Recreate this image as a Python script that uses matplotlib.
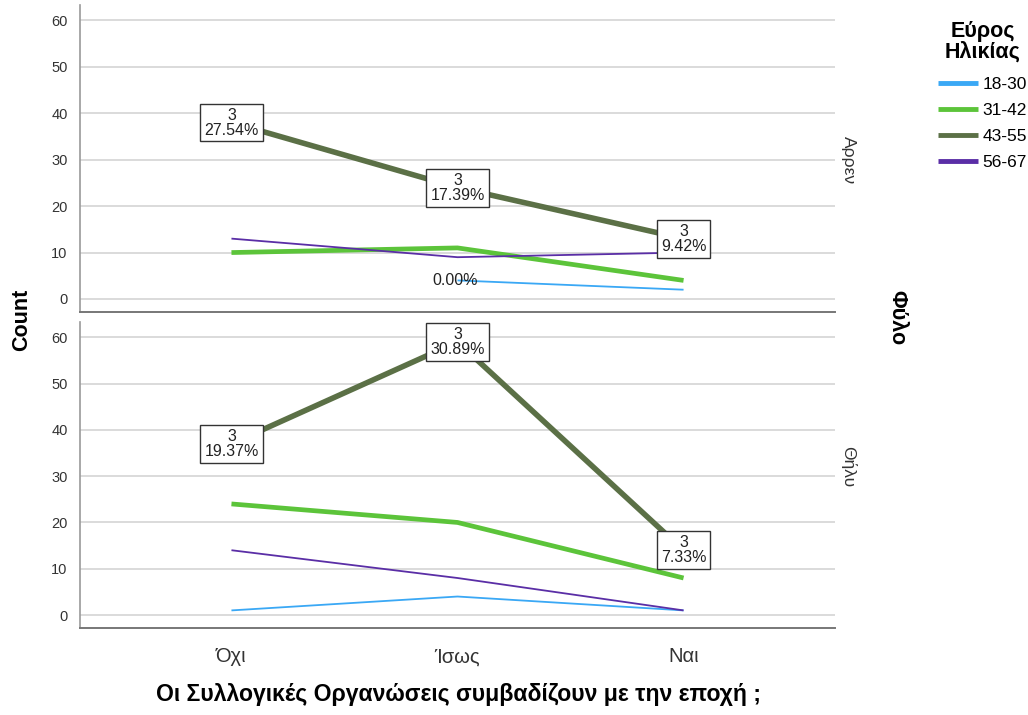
import matplotlib
matplotlib.use("Agg")
import matplotlib.pyplot as plt
import numpy as np

plt.rcParams['font.family'] = ['Liberation Sans', 'DejaVu Sans']

categories = ['Όχι', 'Ίσως', 'Ναι']
age_groups = ['18-30', '31-42', '43-55', '56-67']
panels = ['Αρρεν', 'Θήλυ']

# counts per panel, per age group (None = no point)
male_counts = {
    '18-30': [None, 4, 2],
    '31-42': [10, 11, 4],
    '43-55': [38, 24, 13],
    '56-67': [13, 9, 10],
}
female_counts = {
    '18-30': [1, 4, 1],
    '31-42': [24, 20, 8],
    '43-55': [37, 59, 14],
    '56-67': [14, 8, 1],
}
male_total = 138
female_total = 191

colors = {'18-30': '#3aa8f5', '31-42': '#5cc43a', '43-55': '#5b7046', '56-67': '#5a2ea6'}
widths = {'18-30': 1.3, '31-42': 3.4, '43-55': 4.0, '56-67': 1.3}
yticks = [0, 10, 20, 30, 40, 50, 60]

fig = plt.figure(figsize=(10.28, 7.15), dpi=100)
W, H = 1028, 715
left, right = 80 / W, 835 / W
ax_top = fig.add_axes([left, 1 - 312 / H, right - left, (312 - 5) / H])
ax_bot = fig.add_axes([left, 1 - 628 / H, right - left, (628 - 322) / H])

x = np.arange(len(categories))


def draw_panel(ax, counts, total, zero_label=None):
    for g in age_groups:
        vals = counts[g]
        xs = [xi for xi, v in zip(x, vals) if v is not None]
        ys = [v for v in vals if v is not None]
        ax.plot(xs, ys, color=colors[g], lw=widths[g], solid_capstyle='butt',
                zorder=3, label=g)
    # value boxes on the 43-55 series
    for xi, v in zip(x, counts['43-55']):
        ax.text(xi, v, f'3\n{100 * v / total:.2f}%', ha='center', va='center',
                fontsize=11.5, linespacing=1.0, zorder=5, color='#222222',
                bbox=dict(boxstyle='square,pad=0.25', fc='white', ec='#333333', lw=1.0))
    if zero_label is not None:
        xi, v = zero_label
        ax.text(xi, v, '0.00%', ha='center', va='center', fontsize=11.5,
                color='#222222', zorder=5)
    ax.set_xlim(-0.67, 2.67)
    ax.set_ylim(-2.8, 63.3)
    ax.set_yticks(yticks)
    ax.yaxis.grid(True, color='#d4d4d4', lw=1.2, zorder=0)
    ax.set_axisbelow(True)
    for s in ['top', 'right']:
        ax.spines[s].set_visible(False)
    ax.spines['left'].set_color('#999999')
    ax.spines['bottom'].set_color('#777777')
    ax.spines['left'].set_linewidth(1.2)
    ax.spines['bottom'].set_linewidth(1.4)
    ax.tick_params(axis='y', length=0, labelsize=10.5, colors='#333333', pad=9)
    ax.tick_params(axis='x', length=0)


draw_panel(ax_top, male_counts, male_total, zero_label=(0.99, male_counts['18-30'][1]))
draw_panel(ax_bot, female_counts, female_total)

ax_top.set_xticks(x)
ax_top.set_xticklabels([])
ax_bot.set_xticks(x)
ax_bot.set_xticklabels(categories, fontsize=14.5, color='#333333')
ax_bot.tick_params(axis='x', pad=14)

# facet labels
fig.text(848 / W, 1 - 160 / H, panels[0], rotation=-90, ha='center', va='center', fontsize=12.5, color='#333333')
fig.text(848 / W, 1 - 467 / H, panels[1], rotation=-90, ha='center', va='center', fontsize=12.5, color='#333333')
fig.text(897 / W, 1 - 318 / H, 'Φύλο', rotation=-90, ha='center', va='center', fontsize=15.5, fontweight='bold')

fig.text(22 / W, 1 - 320 / H, 'Count', rotation=90, ha='center', va='center', fontsize=15.5, fontweight='bold')
fig.text(458 / W, 1 - 694 / H, 'Οι Συλλογικές Οργανώσεις συμβαδίζουν με την εποχή ;',
         ha='center', va='center', fontsize=16.6, fontweight='bold')

# legend
fig.text(983 / W, 1 - 42 / H, 'Εύρος\nΗλικίας', ha='center', va='center', fontsize=15.5,
         fontweight='bold', linespacing=0.95)
handles, labels = ax_top.get_legend_handles_labels()
leg = fig.legend(handles, labels, loc='upper left', bbox_to_anchor=(938 / W, 1 - 77 / H),
                 frameon=False, fontsize=12.5, handlelength=2.3, handletextpad=0.25,
                 labelspacing=0.62, borderaxespad=0, borderpad=0)
for line in leg.get_lines():
    line.set_linewidth(3.5)

fig.savefig('out.png', dpi=100)
